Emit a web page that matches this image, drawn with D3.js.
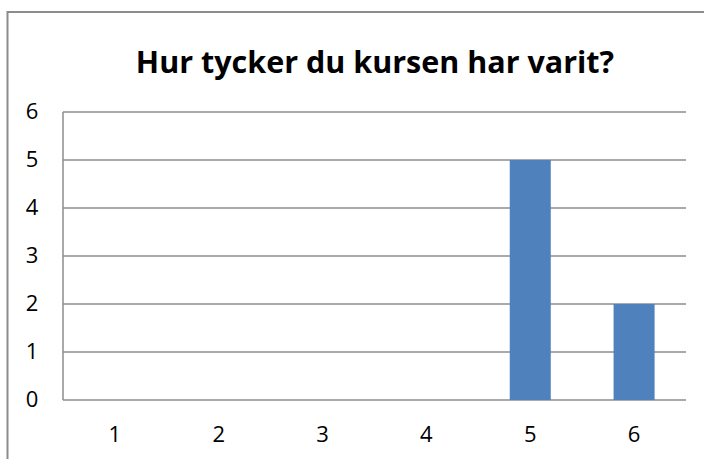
<!DOCTYPE html>
<html>
<head>
<meta charset="utf-8">
<script src="https://cdn.jsdelivr.net/npm/d3@7"></script>
<style>
  body { margin: 0; background: #fff; }
  text { font-family: "Open Sans", "Liberation Sans", sans-serif; }
</style>
</head>
<body>
<script>
// chart data
var categories = ["1", "2", "3", "4", "5", "6"];
var values = [0, 0, 0, 0, 5, 2];
var yTicks = [0, 1, 2, 3, 4, 5, 6];
var title = "Hur tycker du kursen har varit?";

var W = 704, H = 459;
var plot = {left: 63, right: 686, top: 112, bottom: 400};

var svg = d3.select("body").append("svg")
    .attr("width", W)
    .attr("height", H);

// outer frame (runs off the right and bottom edges)
svg.append("rect")
    .attr("x", 7.5)
    .attr("y", 12)
    .attr("width", 760)
    .attr("height", 500)
    .attr("fill", "none")
    .attr("stroke", "#8c8c8c")
    .attr("stroke-width", 2);

var x = d3.scaleBand().domain(categories).range([plot.left, plot.right]).padding(0);
var y = d3.scaleLinear().domain([0, 6]).range([plot.bottom, plot.top]);

// title
svg.append("text")
    .attr("x", 375)
    .attr("y", 73)
    .attr("text-anchor", "middle")
    .style("font-size", "30.5px")
    .style("font-weight", "bold")
    .text(title);

// gridlines
svg.append("g")
    .selectAll("line")
    .data(yTicks)
    .join("line")
    .attr("x1", plot.left)
    .attr("x2", plot.right)
    .attr("y1", function(d) { return y(d); })
    .attr("y2", function(d) { return y(d); })
    .attr("stroke", "#8c8c8c")
    .attr("stroke-width", 1.5);

// left axis line
svg.append("line")
    .attr("x1", plot.left)
    .attr("x2", plot.left)
    .attr("y1", y(6))
    .attr("y2", y(0))
    .attr("stroke", "#8c8c8c")
    .attr("stroke-width", 1.5);

// bars
var barW = x.bandwidth() * 0.395;
svg.append("g")
    .selectAll("rect")
    .data(values)
    .join("rect")
    .attr("x", function(d, i) { return x(categories[i]) + x.bandwidth() / 2 - barW / 2; })
    .attr("y", function(d) { return y(d); })
    .attr("width", barW)
    .attr("height", function(d) { return y(0) - y(d); })
    .attr("fill", "#4f81bd");

// y labels
svg.append("g")
    .selectAll("text")
    .data(yTicks)
    .join("text")
    .attr("x", 32)
    .attr("y", function(d) { return y(d) - 0.5; })
    .attr("dy", "0.36em")
    .attr("text-anchor", "middle")
    .style("font-size", "22px")
    .text(function(d) { return d; });

// x labels
svg.append("g")
    .selectAll("text")
    .data(categories)
    .join("text")
    .attr("x", function(d) { return x(d) + x.bandwidth() / 2; })
    .attr("y", 434.5)
    .attr("dy", "0.36em")
    .attr("text-anchor", "middle")
    .style("font-size", "22px")
    .text(function(d) { return d; });
</script>
</body>
</html>
